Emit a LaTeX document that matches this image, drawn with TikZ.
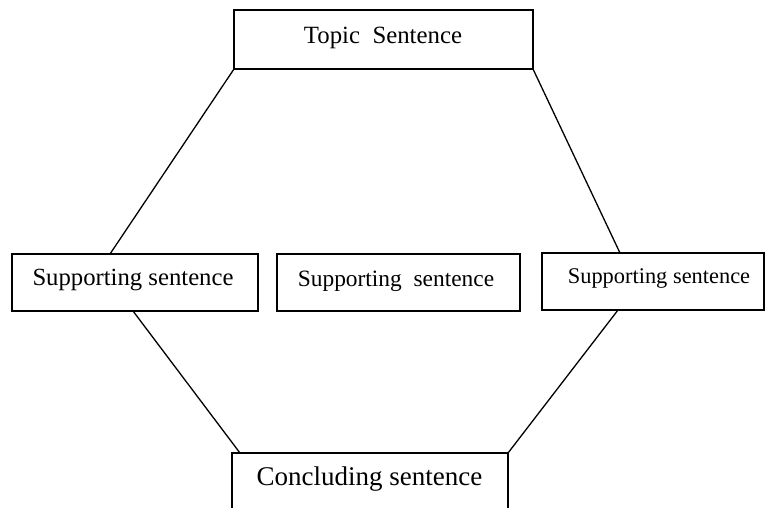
\documentclass[tikz,border=0pt]{standalone}
\usepackage{fontspec}
\setmainfont{Liberation Serif}
\begin{document}
\begin{tikzpicture}[x=1pt,y=-1pt,
  box/.style={draw,line width=1.5pt,rectangle,inner sep=0pt,outer sep=0pt},
  link/.style={line width=1.3pt},
  label/.style={anchor=base,inner sep=0pt}]
\useasboundingbox (0,0) rectangle (765,507);
\clip (0,0) rectangle (765,507);

% boxes
\node[box,minimum width=299pt,minimum height=59pt] (topic) at (383.5,39.5) {};
\node[box,minimum width=246pt,minimum height=57pt] (supA) at (135,282.5) {};
\node[box,minimum width=243pt,minimum height=57pt] (supB) at (398.5,282.5) {};
\node[box,minimum width=222pt,minimum height=57pt] (supC) at (653,281.5) {};
\node[box,minimum width=276pt,minimum height=77pt] (concl) at (370,491.5) {};

% texts
\node[label] (topicT) at (383,43) {\fontsize{24.8}{30}\selectfont Topic\ \ Sentence};
\node[label] (supAT) at (133,285) {\fontsize{24.7}{30}\selectfont Supporting sentence};
\node[label] (supBT) at (396,286.5) {\fontsize{23.4}{28}\selectfont Supporting\ \ sentence};
\node[label] (supCT) at (659,283) {\fontsize{22.4}{27}\selectfont Supporting sentence};
\node[label] (conclT) at (369.5,485) {\fontsize{27}{32}\selectfont Concluding sentence};

% connector ends on the supporting boxes
\coordinate (aTop) at (110,254);
\coordinate (aBot) at (133,311);
\coordinate (cTop) at (620,253);
\coordinate (cBot) at (618,310);
\coordinate (dIn) at (240,453);

% connectors
\draw[link] (topic.south west) -- (aTop);
\draw[link] (topic.south east) -- (cTop);
\draw[link] (aBot) -- (dIn);
\draw[link] (cBot) -- (concl.north east);
\end{tikzpicture}
\end{document}
